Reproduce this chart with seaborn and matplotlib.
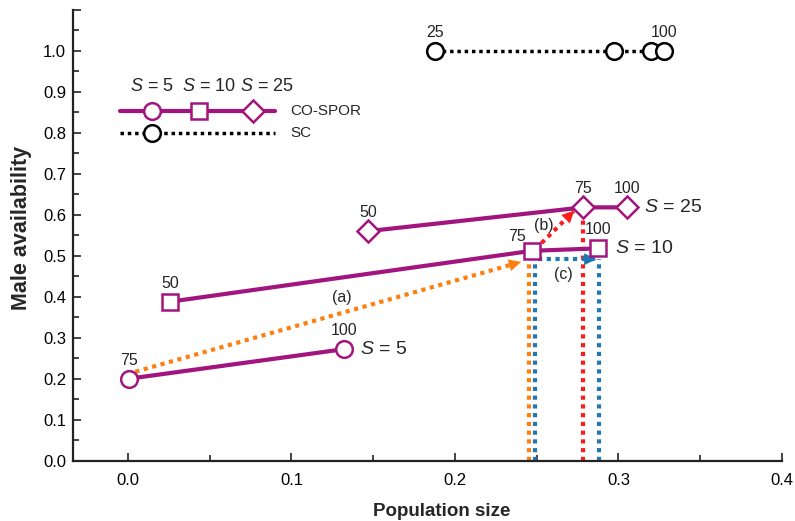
import numpy as np
import pandas as pd
import matplotlib
matplotlib.use("Agg")
import matplotlib.pyplot as plt
import seaborn as sns

# ---- data -------------------------------------------------------------
s5_x = [0.0005, 0.132]
s5_y = [0.200, 0.272]
s5_lab = ["75", "100"]

s10_x = [0.026, 0.247, 0.2875]
s10_y = [0.388, 0.512, 0.518]
s10_lab = ["50", "75", "100"]

s25_x = [0.147, 0.2785, 0.3055]
s25_y = [0.560, 0.618, 0.618]
s25_lab = ["50", "75", "100"]

sc_x = [0.188, 0.297, 0.320, 0.328]
sc_y = [1.0, 1.0, 1.0, 1.0]
sc_lab = ["25", "", "", "100"]

# projected population sizes (dotted drop lines)
drop_orange_x = 0.2453
drop_blue_x = [0.2490, 0.2880]
drop_level = 0.4915

xticks = [0.0, 0.1, 0.2, 0.3, 0.4]
yticks = [0.0, 0.1, 0.2, 0.3, 0.4, 0.5, 0.6, 0.7, 0.8, 0.9, 1.0, 1.1]

# ---- style ------------------------------------------------------------
sns.set_style("ticks")
plt.rcParams["font.family"] = ["Liberation Sans", "DejaVu Sans"]
plt.rcParams["mathtext.fontset"] = "custom"
plt.rcParams["mathtext.it"] = "Liberation Sans:italic"
plt.rcParams["mathtext.rm"] = "Liberation Sans"

PURPLE = "#A2157F"
ORANGE = "#FF7F0E"
BLUE = "#1F77B4"
RED = "#FF1A1A"
DOT = (0, (1, 1.1))

fig = plt.figure(figsize=(7.95, 5.21), dpi=100)
ax = fig.add_axes([0.0918, 0.1157, 0.8918, 0.8656])

line_kw = dict(color=PURPLE, lw=3, markersize=12, markerfacecolor="white",
               markeredgecolor=PURPLE, markeredgewidth=1.8, sort=False,
               zorder=5)

sns.lineplot(x=s5_x, y=s5_y, marker="o", ax=ax, **line_kw)
sns.lineplot(x=s10_x, y=s10_y, marker="s", ax=ax,
             **{**line_kw, "markersize": 11})
sns.lineplot(x=s25_x, y=s25_y, marker="D", ax=ax,
             **{**line_kw, "markersize": 11})
sns.lineplot(x=sc_x, y=sc_y, marker="o", ax=ax, color="black", lw=2.5,
             linestyle=DOT, markersize=12, markerfacecolor="white",
             markeredgecolor="black", markeredgewidth=1.8, sort=False,
             zorder=5)

# point labels (the middle S=10 label sits up-left of its marker)
def label_points(xs, ys, labs, shifts=None):
    for i, (x, y, t) in enumerate(zip(xs, ys, labs)):
        if t:
            off = (shifts or {}).get(i, (0, 8))
            ax.annotate(t, (x, y), xytext=off, textcoords="offset points",
                        ha="center", va="bottom", fontsize=11.5)

label_points(s5_x, s5_y, s5_lab)
label_points(s10_x, s10_y, s10_lab, shifts={1: (-11, 5)})
label_points(s25_x, s25_y, s25_lab)
label_points(sc_x, sc_y, sc_lab)

# series names at the right end of each curve
for xs, ys, n in [(s5_x, s5_y, 5), (s10_x, s10_y, 10), (s25_x, s25_y, 25)]:
    ax.annotate(f"$S$ = {n}", (xs[-1], ys[-1]), xytext=(12, 0),
                textcoords="offset points", ha="left", va="center",
                fontsize=14)

# dotted drop lines to the x axis
ax.plot([drop_orange_x, drop_orange_x], [0, drop_level - 0.005],
        color=ORANGE, lw=3, linestyle=DOT, zorder=2)
ax.plot([drop_blue_x[0], drop_blue_x[0]], [0, drop_level],
        color=BLUE, lw=3, linestyle=DOT, zorder=2)
ax.plot([drop_blue_x[1], drop_blue_x[1]], [0, drop_level],
        color=BLUE, lw=3, linestyle=DOT, zorder=2)
ax.plot([s25_x[1], s25_x[1]], [0, s25_y[1] - 0.02],
        color=RED, lw=3, linestyle=DOT, zorder=2)


def dotted_arrow(p0, p1, color):
    d = np.array(p1) - np.array(p0)
    ax.plot([p0[0], p1[0] - 0.1 * d[0] / 6], [p0[1], p1[1] - 0.1 * d[1] / 6],
            color=color, lw=3, linestyle=DOT, zorder=3)
    back = np.array(p1) - 0.001 * d / np.linalg.norm(d)
    ax.annotate("", xy=p1, xytext=tuple(back),
                arrowprops=dict(arrowstyle="-|>,head_length=0.55,head_width=0.27",
                                color=color, lw=0, mutation_scale=16,
                                shrinkA=0, shrinkB=0),
                zorder=3)

# (a) S=5 -> S=10, (b) S=10 -> S=25, (c) population growth at S=10
dotted_arrow((s5_x[0] + 0.004, s5_y[0] + 0.017),
             (s10_x[1] - 0.0065, s10_y[1] - 0.027), ORANGE)
dotted_arrow((s10_x[1] + 0.006, s10_y[1] + 0.019),
             (s25_x[1] - 0.0055, s25_y[1] - 0.008), RED)
dotted_arrow((drop_blue_x[0] + 0.002, drop_level),
             (drop_blue_x[1] - 0.0015, drop_level), BLUE)

ax.text(0.131, 0.398, "(a)", ha="center", va="center", fontsize=11.5)
ax.text(0.2545, 0.574, "(b)", ha="center", va="center", fontsize=11.5)
ax.text(0.2665, 0.455, "(c)", ha="center", va="center", fontsize=11.5)

# ---- legend (drawn in axes coordinates) -------------------------------
T = ax.transAxes
ly1, ly2 = 0.7754, 0.7273
ax.plot([0.066, 0.285], [ly1, ly1], color=PURPLE, lw=3, transform=T,
        clip_on=False)
for mx, mk, ms in [(0.111, "o", 12), (0.1777, "s", 11), (0.2539, "D", 11)]:
    ax.plot([mx], [ly1], marker=mk, markersize=ms, markerfacecolor="white",
            markeredgecolor=PURPLE, markeredgewidth=1.8, transform=T,
            clip_on=False)
ax.plot([0.066, 0.285], [ly2, ly2], color="black", lw=2.5, linestyle=DOT,
        transform=T, clip_on=False)
ax.plot([0.111], [ly2], marker="o", markersize=12, markerfacecolor="white",
        markeredgecolor="black", markeredgewidth=1.8, transform=T,
        clip_on=False)
for tx, n in [(0.1107, 5), (0.1918, 10), (0.2730, 25)]:
    ax.text(tx, 0.8308, f"$S$ = {n}", transform=T, ha="center",
            va="center", fontsize=13)
ax.text(0.306, ly1, "CO-SPOR", transform=T, ha="left", va="center",
        fontsize=11)
ax.text(0.306, ly2, "SC", transform=T, ha="left", va="center",
        fontsize=11)

# ---- axes -------------------------------------------------------------
ax.set_xlim(-0.0336, 0.4)
ax.set_ylim(0, 1.1)
ax.set_xticks(xticks)
ax.set_xticklabels([f"{v:.1f}" for v in xticks])
ax.set_xticks([0.05, 0.15, 0.25, 0.35], minor=True)
ax.set_yticks(yticks)
ax.set_yticklabels([f"{v:.1f}" if v <= 1.0 else "" for v in yticks])
ax.set_yticks(np.arange(0.05, 1.1, 0.1), minor=True)
ax.tick_params(which="major", direction="in", length=6, width=1.2,
               labelsize=12, colors="#222222")
ax.tick_params(which="minor", direction="in", length=4, width=1.2,
               colors="#222222")
ax.tick_params(axis="y", labelcolor="black", pad=5)
ax.tick_params(axis="x", labelcolor="black", pad=9)
sns.despine(ax=ax)
for s in ["left", "bottom"]:
    ax.spines[s].set_linewidth(1.6)
    ax.spines[s].set_color("#222222")

ax.set_xlabel("Population size", fontsize=13.5, fontweight="bold")
ax.set_ylabel("Male availability", fontsize=15.5, fontweight="bold")
ax.xaxis.set_label_coords(0.52, -0.094)
ax.yaxis.set_label_coords(-0.072, 0.517)
ax.yaxis.label.set_va("center")

fig.savefig("out.png", dpi=100)
